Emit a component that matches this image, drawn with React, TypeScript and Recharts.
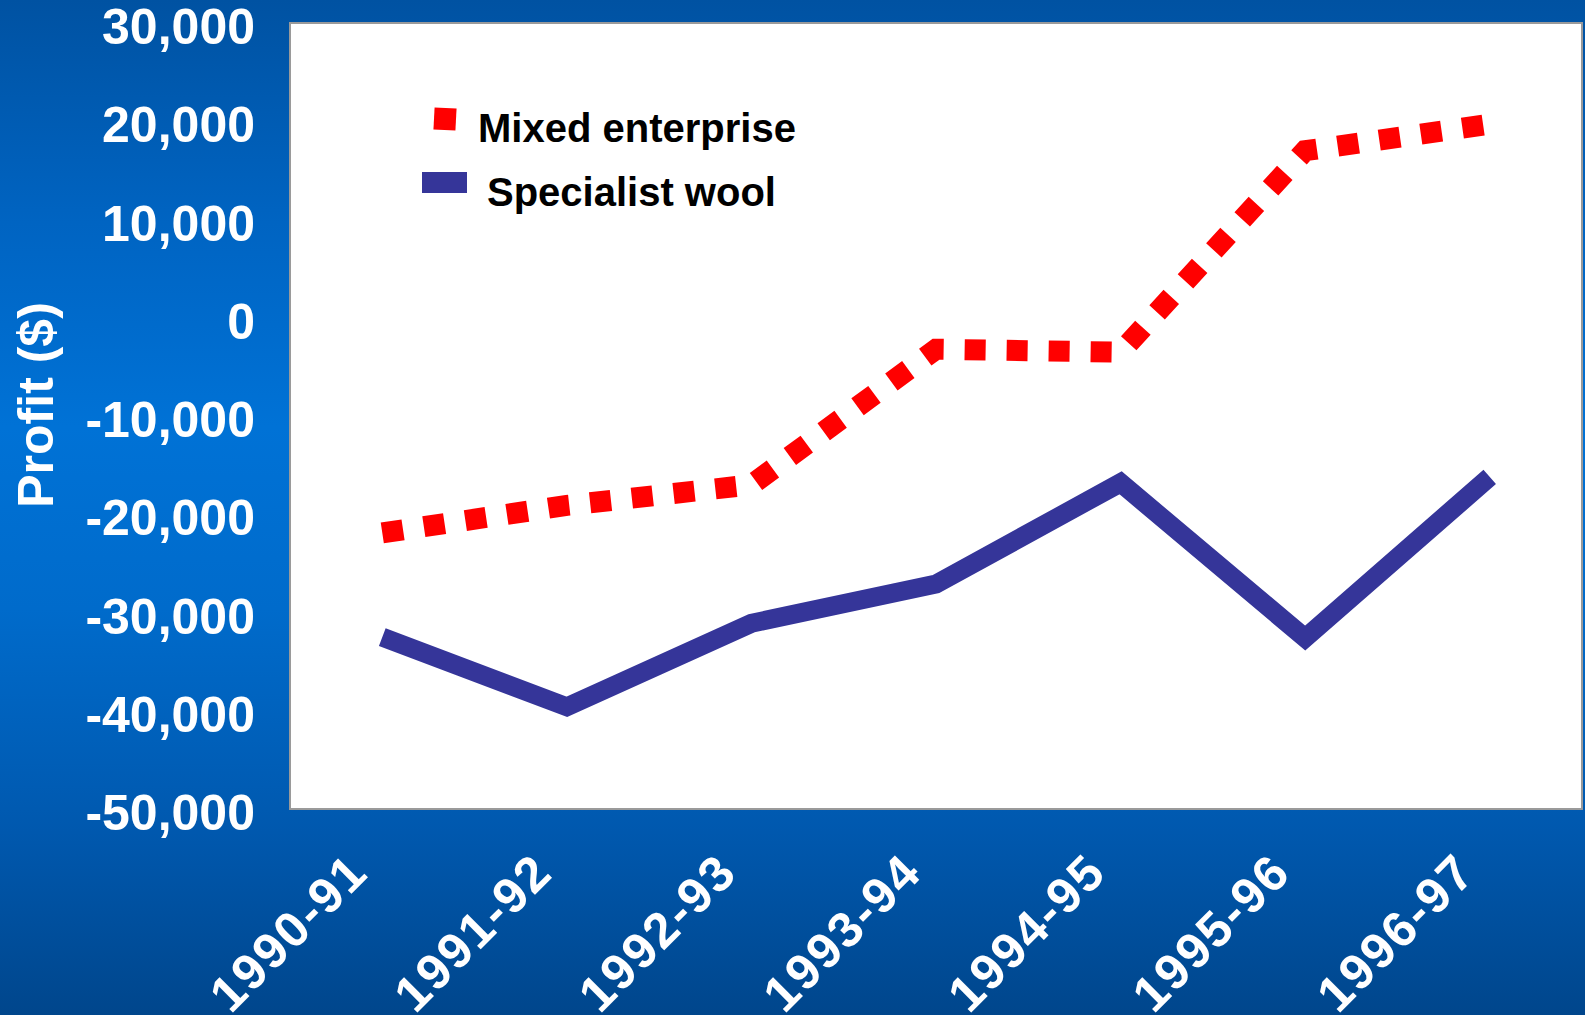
import React from 'react';
import { LineChart, Line, XAxis, YAxis, Legend, ReferenceArea } from 'recharts';

const categories = ['1990-91', '1991-92', '1992-93', '1993-94', '1994-95', '1995-96', '1996-97'];
const mixedEnterprise = [-21900, -19100, -17000, -3200, -3500, 17000, 19700];
const specialistWool = [-32500, -39600, -31100, -27100, -16800, -32600, -16200];
const yTicks = [30000, 20000, 10000, 0, -10000, -20000, -30000, -40000, -50000];

const data = categories.map((c, i) => ({
  year: c,
  mixed: mixedEnterprise[i],
  wool: specialistWool[i],
}));

const FONT = '"Liberation Sans", Arial, sans-serif';

const YTick = (props: any) => {
  const { x, y, payload } = props;
  return (
    <text x={x} y={y} dy={21} textAnchor="end" fill="#ffffff" fontFamily={FONT} fontWeight="bold" fontSize={50}>
      {Number(payload.value).toLocaleString('en-US')}
    </text>
  );
};

const XTick = (props: any) => {
  const { x, y, payload } = props;
  const px = x - 12;
  const py = y + 66;
  return (
    <text x={px} y={py} transform={`rotate(-45 ${px} ${py})`} textAnchor="end" fill="#ffffff" fontFamily={FONT} fontWeight="bold" fontSize={50} letterSpacing={2}>
      {payload.value}
    </text>
  );
};

const YTitle = (props: any) => {
  const { viewBox } = props;
  const cx = viewBox.x + 53;
  const cy = viewBox.y + viewBox.height / 2 - 11;
  return (
    <text x={cx} y={cy} transform={`rotate(-90 ${cx} ${cy})`} textAnchor="middle" fill="#ffffff" fontFamily={FONT} fontWeight="bold" fontSize={50}>
      Profit ($)
    </text>
  );
};

const LegendContent = (props: any) => {
  const { payload } = props;
  const items = payload || [];
  const find = (k: string) => items.find((p: any) => p.dataKey === k);
  const m = find('mixed');
  const w = find('wool');
  return (
    <svg width={900} height={260} style={{ position: 'absolute', left: 0, top: 0, overflow: 'visible' }}>
      {m && (
        <g>
          <rect x={434} y={108} width={22} height={22} fill={m.color} transform="rotate(3 445 119)" />
          <text x={478} y={142} fill="#000" fontFamily={FONT} fontWeight="bold" fontSize={40}>{m.value}</text>
        </g>
      )}
      {w && (
        <g>
          <rect x={422} y={172} width={45} height={21} fill={w.color} />
          <text x={487} y={206} fill="#000" fontFamily={FONT} fontWeight="bold" fontSize={40}>{w.value}</text>
        </g>
      )}
    </svg>
  );
};

export default function App() {
  return (
    <div
      style={{
        position: 'absolute',
        left: 0,
        top: 0,
        width: 1585,
        height: 1015,
        overflow: 'hidden',
        background:
          'linear-gradient(to bottom, #0052A2 0%, #0064C2 22%, #0072D6 42%, #006BCB 60%, #0058AE 82%, #00468C 100%)',
      }}
    >
      <LineChart width={1585} height={1015} data={data} margin={{ top: 23, right: 3, left: 0, bottom: 0 }}>
        <ReferenceArea y1={-50000} y2={30000} fill="#ffffff" fillOpacity={1} stroke="#9a9a9a" strokeWidth={2} ifOverflow="extendDomain" />
        <XAxis
          dataKey="year"
          scale="band"
          height={206}
          interval={0}
          tickLine={false}
          axisLine={false}
          tickSize={0}
          tickMargin={0}
          tick={<XTick />}
        />
        <YAxis
          width={290}
          domain={[-50000, 30000]}
          ticks={yTicks}
          interval={0}
          tickLine={false}
          axisLine={false}
          tickSize={0}
          tickMargin={35}
          tick={<YTick />}
          label={{ content: <YTitle /> }}
        />
        <Legend
          verticalAlign="top"
          align="left"
          wrapperStyle={{ position: 'absolute', left: 0, top: 0, width: 0, height: 0, overflow: 'visible' }}
          content={<LegendContent />}
        />
        <Line
          type="linear"
          dataKey="wool"
          name="Specialist wool"
          stroke="#353599"
          strokeWidth={19}
          strokeLinecap="butt"
          strokeLinejoin="miter"
          dot={false}
          activeDot={false}
          isAnimationActive={false}
        />
        <Line
          type="linear"
          dataKey="mixed"
          name="Mixed enterprise"
          stroke="#ff0000"
          strokeWidth={21}
          strokeDasharray="21 21"
          strokeLinecap="butt"
          strokeLinejoin="miter"
          dot={false}
          activeDot={false}
          isAnimationActive={false}
        />
      </LineChart>
    </div>
  );
}
